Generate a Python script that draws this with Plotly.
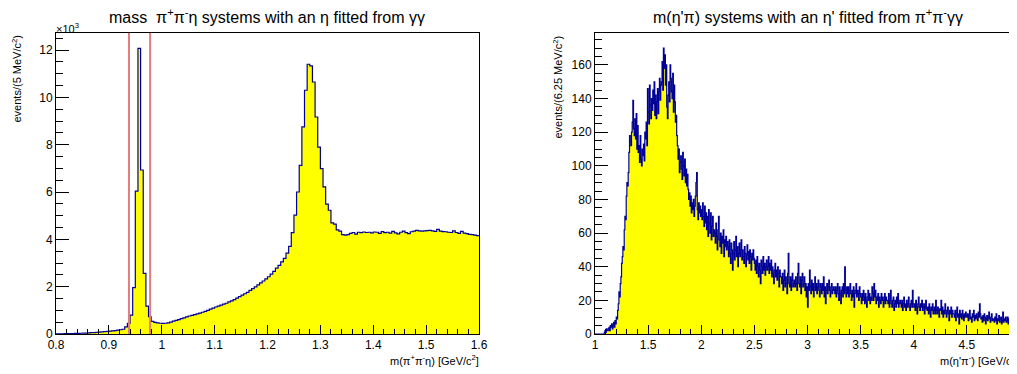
import numpy as np
import plotly.graph_objects as go

# ---------------- data ----------------
# left: m(pi+ pi- eta), 5 MeV bins from 0.8 to 1.6 GeV
left_lo, left_bw = 0.8, 0.005
left_counts = [
    5, 8, 10, 12, 15,
    20, 22, 25, 28, 32, 35,
    40, 48, 55, 62, 70, 78,
    90, 100, 115, 125, 135, 145,
    160, 180, 200, 300,
    450, 800, 1960, 6040, 12070, 6930, 2560, 1180, 730, 530, 490, 470, 455,
    450, 455, 470, 500, 540, 580, 610, 650, 680, 720,
    760, 790, 820, 850, 880, 920, 960, 1000, 1050, 1090,
    1140, 1180, 1220, 1260, 1300, 1360, 1400, 1450, 1520, 1580,
    1640, 1700, 1760, 1840, 1920, 1990, 2080, 2160, 2240, 2330,
    2420, 2530, 2650, 2780, 2900, 3050, 3200, 3420, 3700, 4280,
    5020, 6000, 7130, 8750, 10300, 11400, 11330, 10650, 9170, 7900,
    6990, 6220, 5490, 5230, 4700, 4640, 4400, 4350, 4200, 4180, 4200,
    4250, 4290, 4220, 4300, 4280, 4310, 4290, 4300, 4270, 4310,
    4300, 4250, 4330, 4280, 4300, 4260, 4340, 4270, 4230, 4300,
    4350, 4280, 4240, 4320, 4350, 4380, 4360, 4350, 4360, 4370,
    4380, 4360, 4340, 4420, 4350, 4330, 4320, 4300, 4290, 4360,
    4290, 4250, 4340, 4260, 4240, 4210, 4200, 4180, 4160,
]
eta_prime_window = [0.938, 0.978]

# right: m(eta' pi-), 6.25 MeV bins from 1.0 GeV
right_lo, right_bw = 1.0, 0.00625
right_counts = [
    0, 0, 0, 0, 0, 0, 0, 0, 0, 0, 0, 0, 0, 0, 1, 2, 1, 3, 2, 2,
    3, 4, 2, 5, 4, 6, 3, 5, 7, 4, 8, 6, 10, 9, 14, 18, 25, 22, 30, 34,
    42, 46, 52, 50, 62, 70, 68, 82, 90, 88, 96, 108, 118, 115, 112, 120, 126, 139, 122, 118,
    128, 116, 131, 110, 124, 108, 112, 102, 118, 104, 100, 110, 106, 113, 103, 120, 116, 126, 112, 146,
    132, 125, 148, 136, 128, 140, 133, 145, 137, 150, 130, 142, 128, 138, 146, 131, 144, 152, 139, 148,
    150, 162, 145, 170, 158, 166, 148, 160, 135, 128, 142, 150, 138, 160, 152, 144, 140, 155, 132, 148,
    138, 126, 130, 118, 112, 104, 110, 96, 102, 106, 98, 92, 108, 100, 94, 104, 90, 98, 88, 95,
    86, 80, 84, 76, 82, 72, 78, 74, 80, 70, 76, 82, 90, 96, 74, 68, 78, 72, 76, 70,
    74, 68, 78, 70, 64, 76, 66, 72, 62, 70, 58, 74, 66, 60, 72, 56, 64, 70, 58, 62,
    60, 54, 66, 58, 50, 62, 70, 56, 52, 60, 48, 58, 54, 62, 46, 56, 52, 58, 50, 55,
    52, 46, 56, 48, 42, 54, 50, 38, 48, 55, 44, 50, 58, 46, 52, 40, 48, 54, 46, 50,
    56, 44, 50, 46, 42, 52, 48, 40, 47, 53, 44, 49, 42, 50, 46, 38, 48, 44, 50, 45,
    42, 38, 44, 36, 46, 40, 34, 42, 38, 30, 44, 40, 36, 46, 38, 42, 35, 40, 44, 38,
    40, 46, 36, 42, 38, 44, 34, 40, 36, 30, 38, 42, 34, 38, 32, 40, 36, 28, 38, 34,
    34, 30, 36, 26, 32, 38, 28, 34, 30, 24, 36, 48, 30, 28, 34, 26, 32, 36, 28, 30,
    32, 28, 34, 30, 26, 36, 42, 30, 28, 34, 24, 32, 36, 28, 30, 34, 26, 30, 22, 28,
    16, 30, 26, 38, 28, 24, 32, 26, 30, 22, 28, 34, 26, 30, 24, 28, 32, 26, 22, 30,
    28, 24, 30, 26, 34, 22, 28, 18, 26, 30, 24, 28, 32, 26, 22, 28, 30, 24, 26, 28,
    26, 24, 28, 22, 26, 30, 24, 20, 28, 24, 18, 26, 28, 22, 30, 24, 40, 26, 22, 28,
    24, 28, 22, 26, 30, 24, 20, 26, 22, 28, 16, 24, 26, 30, 22, 26, 24, 20, 28, 24,
    22, 18, 24, 20, 26, 22, 18, 24, 20, 16, 22, 26, 20, 24, 18, 22, 20, 28, 24, 20,
    30, 22, 26, 18, 22, 20, 24, 16, 22, 20, 18, 24, 20, 22, 16, 20, 24, 18, 22, 20,
    20, 18, 24, 16, 20, 26, 18, 16, 20, 22, 14, 18, 20, 16, 22, 18, 24, 16, 18, 20,
    18, 16, 20, 14, 18, 22, 16, 18, 14, 20, 16, 18, 22, 16, 14, 18, 20, 16, 26, 18,
    16, 18, 14, 20, 16, 12, 18, 22, 16, 14, 18, 16, 20, 14, 16, 18, 12, 16, 20, 15,
    14, 16, 12, 18, 14, 10, 16, 14, 18, 12, 14, 16, 12, 20, 14, 12, 16, 14, 10, 15,
    14, 20, 12, 16, 10, 14, 12, 18, 14, 10, 13, 16, 12, 8, 14, 12, 16, 10, 14, 12,
    12, 10, 14, 8, 12, 16, 10, 12, 6, 14, 10, 12, 9, 14, 11, 8, 12, 10, 13, 11,
    10, 12, 8, 11, 14, 9, 10, 7, 12, 10, 14, 8, 11, 9, 12, 10, 8, 13, 10, 18,
    12, 9, 10, 7, 11, 8, 12, 10, 6, 9, 11, 8, 10, 13, 9, 7, 10, 12, 8, 9,
    9, 7, 10, 8, 12, 6, 9, 8, 11, 7, 9, 10, 6, 8, 13, 7, 9, 8, 10, 7,
    8, 10, 6, 9, 7, 11, 5, 8, 9, 7, 10, 6, 8, 9, 7, 8, 6, 10, 8, 7,
]

left_yticks = [0, 2000, 4000, 6000, 8000, 10000, 12000]
left_yticktext = ["0", "2", "4", "6", "8", "10", "12"]

# ---------------- figure ----------------
W, H = 1017, 374
OFF = 8  # page body margin offset
FONT = "Liberation Sans, Arial, Helvetica, sans-serif"
FILL = "#FFFF00"
LINE = "#000099"


def px(x):
    return (x - OFF) / W


def py(y):
    return 1 - (y - OFF) / H


def step_xy(lo, bw, counts):
    n = len(counts)
    edges = lo + bw * np.arange(n + 1)
    y = list(counts) + [counts[-1]]
    return edges, y


fig = go.Figure()

lx, ly = step_xy(left_lo, left_bw, left_counts)
fig.add_trace(go.Scatter(x=lx, y=ly, mode="lines", line=dict(shape="hv", color=LINE, width=1.2),
                         fill="tozeroy", fillcolor=FILL, xaxis="x", yaxis="y", showlegend=False,
                         hoverinfo="skip"))
rx, ry = step_xy(right_lo, right_bw, right_counts)
fig.add_trace(go.Scatter(x=rx, y=ry, mode="lines", line=dict(shape="hv", color=LINE, width=1.2),
                         fill="tozeroy", fillcolor=FILL, xaxis="x2", yaxis="y2", showlegend=False,
                         hoverinfo="skip"))

ydom = [py(334), py(33)]
axis_common = dict(showgrid=False, zeroline=False, showline=True, mirror=True, linecolor="black",
                   linewidth=1, ticks="inside", tickcolor="black", automargin=False,
                   tickfont=dict(family=FONT, size=12, color="black"))

fig.update_layout(
    template="none",
    width=W, height=H, margin=dict(l=0, r=0, t=0, b=0, autoexpand=False),
    paper_bgcolor="white", plot_bgcolor="white",
    xaxis=dict(domain=[px(56), px(479)], range=[0.8, 1.6], anchor="y", tick0=0.8, dtick=0.1,
               ticklen=9, minor=dict(dtick=0.02, ticklen=5, ticks="inside", tickcolor="black", showgrid=False),
               **axis_common),
    yaxis=dict(domain=ydom, range=[0, 12720], anchor="x", tickvals=left_yticks, ticktext=left_yticktext,
               ticklen=13, minor=dict(dtick=500, ticklen=7, ticks="inside", tickcolor="black", showgrid=False),
               **axis_common),
    xaxis2=dict(domain=[px(595), px(1020.2)], range=[1.0, 5.002], anchor="y2", tick0=1, dtick=0.5,
                ticklen=9, minor=dict(dtick=0.1, ticklen=5, ticks="inside", tickcolor="black", showgrid=False),
                **axis_common),
    yaxis2=dict(domain=ydom, range=[0, 179], anchor="x2", tick0=0, dtick=20,
                ticklen=13, minor=dict(dtick=5, ticklen=7, ticks="inside", tickcolor="black", showgrid=False),
                **axis_common),
)

for xv in eta_prime_window:
    fig.add_shape(type="line", xref="x", yref="y domain", x0=xv, x1=xv, y0=0, y1=1,
                  line=dict(color="rgb(225,125,125)", width=2))

ann = []
ann.append(dict(text="mass  π<sup>+</sup>π<sup>-</sup>η systems with an η fitted from γγ",
                x=px(267), y=py(16), xanchor="center", yanchor="middle", font=dict(size=16)))
ann.append(dict(text="m(η'π) systems with an η' fitted from π<sup>+</sup>π<sup>-</sup>γγ",
                x=px(808), y=py(16), xanchor="center", yanchor="middle", font=dict(size=16)))
ann.append(dict(text="×10<sup>3</sup>", x=px(54), y=py(28), xanchor="left", yanchor="middle",
                font=dict(size=11)))
ann.append(dict(text="m(π<sup>+</sup>π<sup>-</sup>η) [GeV/c<sup>2</sup>]", x=px(481), y=py(360),
                xanchor="right", yanchor="middle", font=dict(size=11)))
ann.append(dict(text="m(η'π<sup>-</sup>) [GeV/c<sup>2</sup>]", x=px(1021), y=py(360),
                xanchor="right", yanchor="middle", font=dict(size=11)))
ann.append(dict(text="events/(5 MeV/c<sup>2</sup>)", x=px(16), y=py(34), textangle=-90,
                xanchor="center", yanchor="top", font=dict(size=11)))
ann.append(dict(text="events/(6.25 MeV/c<sup>2</sup>)", x=px(557), y=py(34), textangle=-90,
                xanchor="center", yanchor="top", font=dict(size=11)))
for a in ann:
    a.update(xref="paper", yref="paper", showarrow=False)
    a["font"].update(family=FONT, color="black")
fig.update_layout(annotations=ann)

fig.write_html("out.html")
